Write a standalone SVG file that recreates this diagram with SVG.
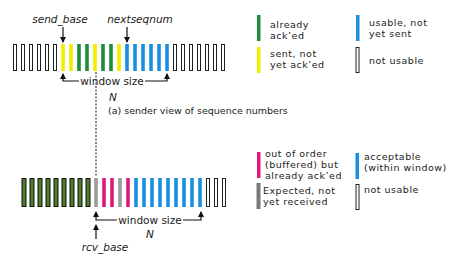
<svg xmlns="http://www.w3.org/2000/svg" width="462" height="258" viewBox="0 0 462 258">
<style>
text{font-family:"DejaVu Sans","Liberation Sans",sans-serif;fill:#222;font-size:10.5px}
.it{font-style:italic}
.mid{text-anchor:middle}
.cap{font-size:9.5px}
.lg{font-size:9.5px;letter-spacing:0.5px}
.ln{fill:none;stroke:#111;stroke-width:1.2}
.dash{fill:none;stroke:#111;stroke-width:1;stroke-dasharray:2 1.5}
.w{fill:#fff;stroke:#222;stroke-width:1}
.g{fill:#1e8c3a}
.y{fill:#f2ee00}
.b{fill:#1b8ee0}
.m{fill:#dc1a7e}
.gr{fill:#9c9c9c}
.gl{fill:#7a7a7a}
.dg{fill:#4b7d2a;stroke:#111;stroke-width:1}
</style>
<defs>
<marker id="ah" viewBox="0 0 6 6" refX="5" refY="3" markerWidth="6" markerHeight="6" markerUnits="userSpaceOnUse" orient="auto">
<path d="M0,0 L6,3 L0,6 Z" fill="#111"/>
</marker>
</defs>
<g id="sender-row">
<rect class="w" x="13.5" y="44.5" width="3" height="26"/>
<rect class="w" x="21.5" y="44.5" width="3" height="26"/>
<rect class="w" x="29.5" y="44.5" width="3" height="26"/>
<rect class="w" x="37.5" y="44.5" width="3" height="26"/>
<rect class="w" x="45.5" y="44.5" width="3" height="26"/>
<rect class="w" x="53.5" y="44.5" width="3" height="26"/>
<rect class="y" x="61.2" y="44" width="3.6" height="27"/>
<rect class="y" x="69.2" y="44" width="3.6" height="27"/>
<rect class="g" x="77.2" y="44" width="3.6" height="27"/>
<rect class="g" x="85.2" y="44" width="3.6" height="27"/>
<rect class="y" x="93.2" y="44" width="3.6" height="27"/>
<rect class="g" x="101.2" y="44" width="3.6" height="27"/>
<rect class="g" x="109.2" y="44" width="3.6" height="27"/>
<rect class="y" x="117.2" y="44" width="3.6" height="27"/>
<rect class="b" x="125.2" y="44" width="3.6" height="27"/>
<rect class="b" x="133.2" y="44" width="3.6" height="27"/>
<rect class="b" x="141.2" y="44" width="3.6" height="27"/>
<rect class="b" x="149.2" y="44" width="3.6" height="27"/>
<rect class="b" x="157.2" y="44" width="3.6" height="27"/>
<rect class="b" x="165.2" y="44" width="3.6" height="27"/>
<rect class="w" x="173.5" y="44.5" width="3" height="26"/>
<rect class="w" x="181.5" y="44.5" width="3" height="26"/>
<rect class="w" x="189.5" y="44.5" width="3" height="26"/>
<rect class="w" x="197.5" y="44.5" width="3" height="26"/>
<rect class="w" x="205.5" y="44.5" width="3" height="26"/>
<rect class="w" x="213.5" y="44.5" width="3" height="26"/>
<rect class="w" x="221.5" y="44.5" width="3" height="26"/>
</g>
<g id="receiver-row">
<rect class="dg" x="22" y="178.5" width="4" height="28"/>
<rect class="dg" x="30" y="178.5" width="4" height="28"/>
<rect class="dg" x="38" y="178.5" width="4" height="28"/>
<rect class="dg" x="46" y="178.5" width="4" height="28"/>
<rect class="dg" x="54" y="178.5" width="4" height="28"/>
<rect class="dg" x="62" y="178.5" width="4" height="28"/>
<rect class="dg" x="70" y="178.5" width="4" height="28"/>
<rect class="dg" x="78" y="178.5" width="4" height="28"/>
<rect class="dg" x="86" y="178.5" width="4" height="28"/>
<rect class="gr" x="94.2" y="178" width="3.6" height="29"/>
<rect class="m" x="102.2" y="178" width="3.6" height="29"/>
<rect class="m" x="110.2" y="178" width="3.6" height="29"/>
<rect class="gr" x="118.2" y="178" width="3.6" height="29"/>
<rect class="m" x="126.2" y="178" width="3.6" height="29"/>
<rect class="b" x="134.2" y="178" width="3.6" height="29"/>
<rect class="b" x="142.2" y="178" width="3.6" height="29"/>
<rect class="b" x="150.2" y="178" width="3.6" height="29"/>
<rect class="b" x="158.2" y="178" width="3.6" height="29"/>
<rect class="b" x="166.2" y="178" width="3.6" height="29"/>
<rect class="b" x="174.2" y="178" width="3.6" height="29"/>
<rect class="b" x="182.2" y="178" width="3.6" height="29"/>
<rect class="b" x="190.2" y="178" width="3.6" height="29"/>
<rect class="b" x="198.2" y="178" width="3.6" height="29"/>
<rect class="w" x="206.5" y="178.5" width="3" height="28"/>
<rect class="w" x="214.5" y="178.5" width="3" height="28"/>
<rect class="w" x="222.5" y="178.5" width="3" height="28"/>
</g>
<g id="connectors">
<line class="ln" x1="63" y1="27" x2="63" y2="42" marker-end="url(#ah)"/>
<line class="ln" x1="127" y1="27" x2="127" y2="42" marker-end="url(#ah)"/>
<polyline class="ln" points="79,81 63,81 63,74" marker-end="url(#ah)"/>
<polyline class="ln" points="145,81 167,81 167,74" marker-end="url(#ah)"/>
<line class="dash" x1="96" y1="72" x2="96" y2="176"/>
<polyline class="ln" points="117,220 96,220 96,212" marker-end="url(#ah)"/>
<polyline class="ln" points="183,220 201,220 201,212" marker-end="url(#ah)"/>
<line class="ln" x1="96" y1="239" x2="96" y2="225" marker-end="url(#ah)"/>
</g>
<g id="labels">
<text class="it mid" x="60" y="23">send_base</text>
<text class="it mid" x="140" y="23">nextseqnum</text>
<text class="mid" x="112" y="85">window size</text>
<text class="it mid" x="113" y="101">N</text>
<text class="cap" x="108" y="114">(a) sender view of sequence numbers</text>
<text class="mid" x="150" y="224">window size</text>
<text class="it mid" x="150" y="238">N</text>
<text class="it mid" x="105" y="251">rcv_base</text>
</g>
<g id="legend-sender">
<rect class="g" x="257" y="15" width="3.5" height="26"/>
<text class="lg" x="270" y="28">already</text>
<text class="lg" x="270" y="39">ack’ed</text>
<rect class="y" x="257" y="47" width="3.5" height="26"/>
<text class="lg" x="270" y="56.5">sent, not</text>
<text class="lg" x="270" y="67.5">yet ack’ed</text>
<rect class="b" x="356" y="15" width="3.5" height="26"/>
<text class="lg" x="369" y="25.5">usable, not</text>
<text class="lg" x="369" y="36.5">yet sent</text>
<rect class="w" x="356" y="47.5" width="3" height="25"/>
<text class="lg" x="369" y="63.5">not usable</text>
</g>
<g id="legend-receiver">
<rect class="m" x="257" y="152" width="3.5" height="26"/>
<text class="lg" x="265" y="156.5">out of order</text>
<text class="lg" x="265" y="167.5">(buffered) but</text>
<text class="lg" x="265" y="178.5">already ack’ed</text>
<rect class="gl" x="256.5" y="183" width="4" height="26"/>
<text class="lg" x="263" y="193.5">Expected, not</text>
<text class="lg" x="263" y="204.5">yet received</text>
<rect class="b" x="355.5" y="153" width="3.5" height="26"/>
<text class="lg" x="364" y="160">acceptable</text>
<text class="lg" x="364" y="171">(within window)</text>
<rect class="w" x="356" y="184.5" width="3" height="25"/>
<text class="lg" x="364" y="193">not usable</text>
</g>
</svg>
